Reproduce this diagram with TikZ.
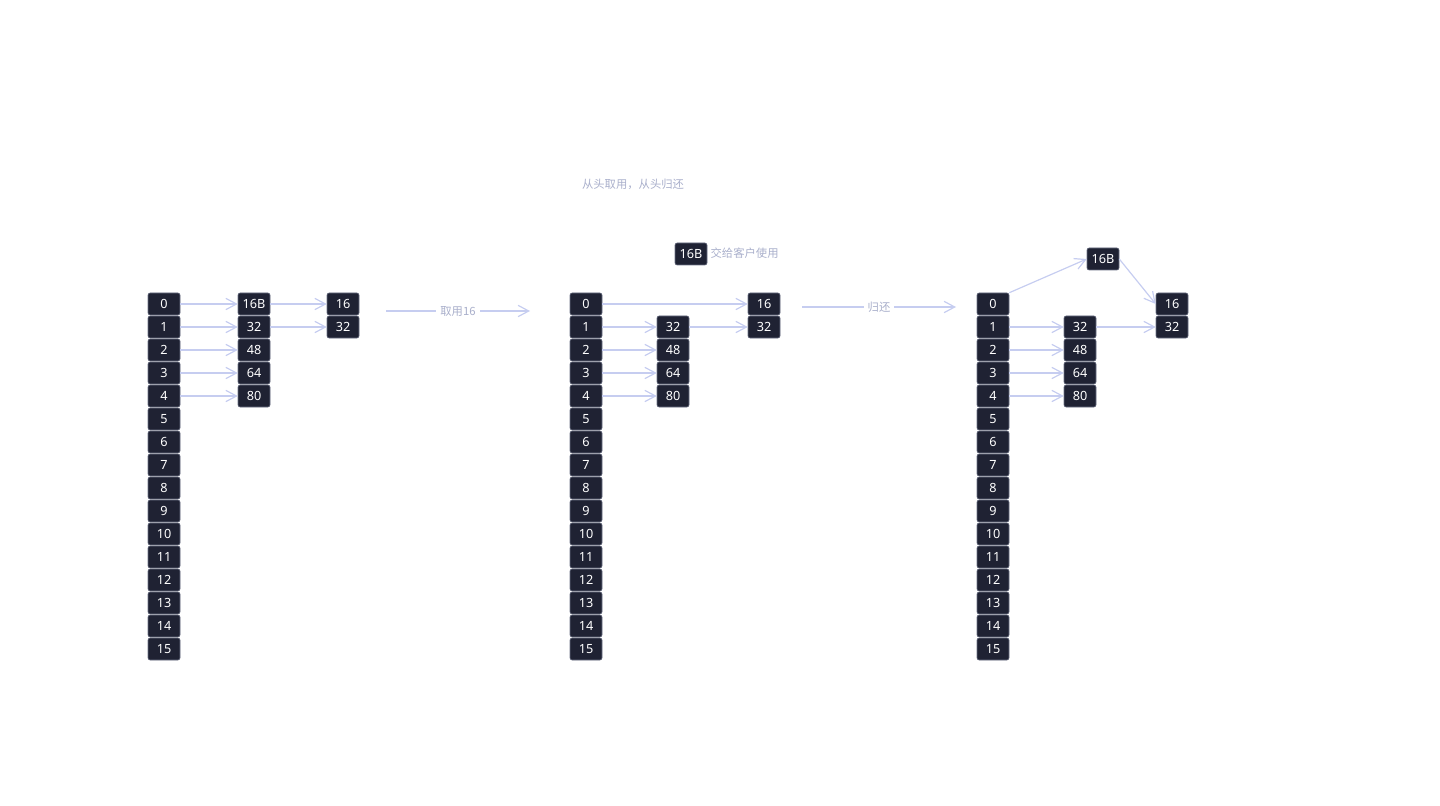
\documentclass[tikz,border=0pt]{standalone}
\usepackage{fontspec}
\setmainfont{Noto Sans}
\newfontfamily\cjk{Noto Sans CJK SC}
\usetikzlibrary{arrows.meta}
\definecolor{cellbg}{HTML}{1F2233}
\definecolor{cellrim}{HTML}{6B7085}
\definecolor{linkblue}{HTML}{C6CDF0}
\definecolor{notegray}{HTML}{A9AFCB}

\begin{document}
\begin{tikzpicture} [x=0.75pt,y=-0.75pt,
		cell/.style={draw=cellrim,fill=cellbg,text=white,rounded corners=1.5pt,
			minimum width=24pt,minimum height=16.5pt,inner sep=0pt,line width=0.4pt,
			font=\fontsize{9.5}{10}\selectfont},
		link/.style={draw=linkblue,line width=0.9pt,-{Straight Barb[length=8pt,width=8.5pt]}},
		note/.style={text=notegray,font=\cjk\fontsize{8.5}{10}\selectfont,inner sep=1pt}]
	\useasboundingbox (0,0) rectangle (1440,806);

	% the three free lists
	\foreach \i in {0,...,15} {
		\node[cell] (l\i) at (164,304+23*\i) {\i};
		\node[cell] (m\i) at (586,304+23*\i) {\i};
		\node[cell] (r\i) at (993,304+23*\i) {\i};
	}

	% before
	\node[cell] (lb0) at (254,304) {16B};
	\node[cell] (lb1) at (254,327) {32};
	\node[cell] (lb2) at (254,350) {48};
	\node[cell] (lb3) at (254,373) {64};
	\node[cell] (lb4) at (254,396) {80};
	\node[cell] (lc0) at (343,304) {16};
	\node[cell] (lc1) at (343,327) {32};
	\foreach \i in {0,...,4} \draw[link] (l\i) -- (lb\i);
	\draw[link] (lb0) -- (lc0);
	\draw[link] (lb1) -- (lc1);

	% taken
	\node[cell] (mb1) at (673,327) {32};
	\node[cell] (mb2) at (673,350) {48};
	\node[cell] (mb3) at (673,373) {64};
	\node[cell] (mb4) at (673,396) {80};
	\node[cell] (mc0) at (764,304) {16};
	\node[cell] (mc1) at (764,327) {32};
	\draw[link] (m0) -- (mc0);
	\foreach \i in {1,...,4} \draw[link] (m\i) -- (mb\i);
	\draw[link] (mb1) -- (mc1);
	\node[cell] (given) at (691,254) {16B};
	\node[note,anchor=west] (givennote) at (709,253) {交给客户使用};
	\node[note] (title) at (633,184) {从头取用，从头归还};

	% returned
	\node[cell] (rb) at (1103,259) {16B};
	\node[cell] (rb1) at (1080,327) {32};
	\node[cell] (rb2) at (1080,350) {48};
	\node[cell] (rb3) at (1080,373) {64};
	\node[cell] (rb4) at (1080,396) {80};
	\node[cell] (rc0) at (1172,304) {16};
	\node[cell] (rc1) at (1172,327) {32};
	\draw[link] (r0.north east) -- (rb.west);
	\draw[link] (rb.east) -- (rc0.west);
	\foreach \i in {1,...,4} \draw[link] (r\i) -- (rb\i);
	\draw[link] (rb1) -- (rc1);

	% steps
	\coordinate (take-s) at (386,311);
	\coordinate (take-e) at (530,311);
	\coordinate (back-s) at (802,307);
	\coordinate (back-e) at (956,307);
	\draw[link] (take-s) -- node[note,fill=white,inner sep=3pt] {取用16} (take-e);
	\draw[link] (back-s) -- node[note,fill=white,inner sep=3pt] {归还} (back-e);
\end{tikzpicture}
\end{document}
